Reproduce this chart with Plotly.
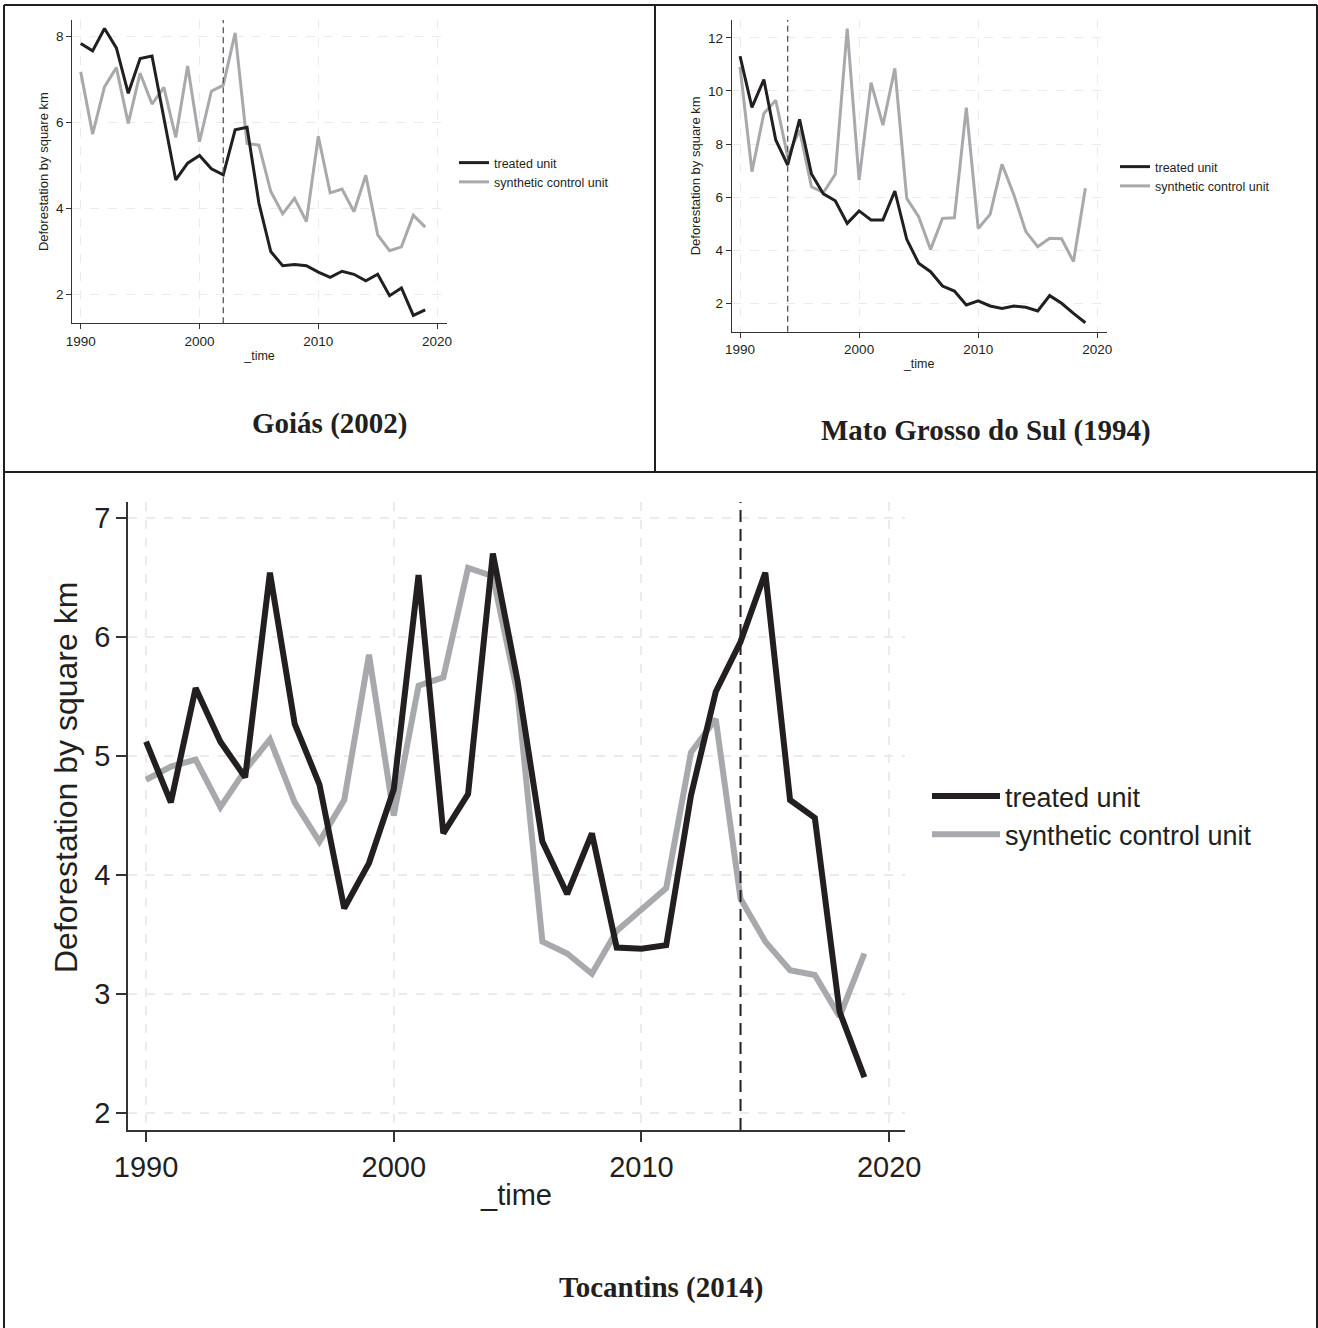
import plotly.graph_objects as go

W, H = 1318, 1328

years = list(range(1990, 2020))

# Goiás (treatment 2002)
goias_treated = [7.84, 7.67, 8.19, 7.74, 6.68, 7.49, 7.55, 6.14, 4.66, 5.05,
                 5.23, 4.92, 4.78, 5.83, 5.89, 4.12, 2.99, 2.66, 2.69, 2.66,
                 2.51, 2.39, 2.53, 2.46, 2.31, 2.46, 1.96, 2.14, 1.50, 1.63]
goias_synth = [7.18, 5.73, 6.83, 7.28, 5.98, 7.15, 6.43, 6.82, 5.65, 7.32,
               5.55, 6.73, 6.87, 8.09, 5.51, 5.47, 4.39, 3.87, 4.23, 3.69,
               5.68, 4.36, 4.45, 3.92, 4.77, 3.38, 3.01, 3.10, 3.84, 3.56]

# Mato Grosso do Sul (treatment 1994)
ms_treated = [11.31, 9.38, 10.43, 8.15, 7.21, 8.93, 6.87, 6.12, 5.86, 5.01,
              5.48, 5.14, 5.14, 6.23, 4.41, 3.51, 3.19, 2.65, 2.46, 1.94,
              2.09, 1.90, 1.81, 1.90, 1.85, 1.71, 2.29, 2.00, 1.62, 1.27]
ms_synth = [10.91, 6.96, 9.15, 9.65, 7.52, 8.52, 6.39, 6.17, 6.86, 12.35,
            6.64, 10.31, 8.71, 10.85, 5.95, 5.26, 4.03, 5.20, 5.22, 9.37,
            4.82, 5.35, 7.24, 6.08, 4.70, 4.13, 4.45, 4.43, 3.57, 6.33]

# Tocantins (treatment 2014)
to_treated = [5.12, 4.61, 5.57, 5.12, 4.82, 6.54, 5.27, 4.76, 3.72, 4.10,
              4.72, 6.52, 4.35, 4.68, 6.70, 5.63, 4.28, 3.84, 4.35, 3.39,
              3.38, 3.41, 4.67, 5.54, 5.96, 6.54, 4.63, 4.48, 2.85, 2.30]
to_synth = [4.80, 4.91, 4.97, 4.57, 4.88, 5.14, 4.61, 4.28, 4.63, 5.85,
            4.50, 5.59, 5.66, 6.58, 6.51, 5.52, 3.44, 3.34, 3.17, 3.53,
            3.71, 3.89, 5.03, 5.31, 3.80, 3.44, 3.20, 3.16, 2.81, 3.34]

titles = ["Goiás (2002)", "Mato Grosso do Sul (1994)", "Tocantins (2014)"]
treat_years = [2002, 1994, 2014]
x_ticks = [1990, 2000, 2010, 2020]
goias_yticks = [2, 4, 6, 8]
ms_yticks = [2, 4, 6, 8, 10, 12]
to_yticks = [2, 3, 4, 5, 6, 7]
legend_names = ["treated unit", "synthetic control unit"]
y_title = "Deforestation by square km"
x_title = "_time"

BLACK = "#231f20"
GRAY = "#a7a9ac"
SANS = "Liberation Sans, Arial, sans-serif"
SERIF = "Liberation Serif, Times New Roman, serif"


def px(x):
    return x / W


def py(y):
    return 1 - y / H


fig = go.Figure()

panels = [
    dict(tr=goias_treated, sy=goias_synth, ax="", leg="legend", lw=3,
         dom_x=(72.3, 446.7), dom_y=(20, 323.3), xr=(1989.29, 2020.81), yr=(1.317, 8.39),
         yt=goias_yticks),
    dict(tr=ms_treated, sy=ms_synth, ax="2", leg="legend2", lw=3,
         dom_x=(731.7, 1106.7), dom_y=(20, 331.7), xr=(1989.30, 2020.79), yr=(0.931, 12.67),
         yt=ms_yticks),
    dict(tr=to_treated, sy=to_synth, ax="3", leg="legend3", lw=6,
         dom_x=(128, 905), dom_y=(502, 1130), xr=(1989.27, 2020.64), yr=(1.857, 7.134),
         yt=to_yticks),
]

layout = dict(
    width=W, height=H, margin=dict(l=0, r=0, t=0, b=0, pad=0, autoexpand=False),
    paper_bgcolor="white", plot_bgcolor="white",
    font=dict(family=SANS, color=BLACK),
    shapes=[], annotations=[],
)

for i, p in enumerate(panels):
    big = (i == 2)
    xa = "x" + p["ax"]
    ya = "y" + p["ax"]
    fig.add_trace(go.Scatter(x=years, y=p["sy"], mode="lines", name=legend_names[1],
                             line=dict(color=GRAY, width=p["lw"]), xaxis=xa, yaxis=ya,
                             legend=p["leg"], legendrank=2))
    fig.add_trace(go.Scatter(x=years, y=p["tr"], mode="lines", name=legend_names[0],
                             line=dict(color=BLACK, width=p["lw"]), xaxis=xa, yaxis=ya,
                             legend=p["leg"], legendrank=1))
    tick_fs = 29 if big else 13.5
    title_fs = 29 if big else 12.5
    common = dict(showline=True, linecolor="#333333", linewidth=1.5 if big else 1,
                  ticks="outside", ticklen=10 if big else 5, tickcolor="#333333",
                  tickwidth=1.5 if big else 1, automargin=False,
                  showgrid=True, gridcolor="#ebebeb", griddash="dash",
                  gridwidth=2 if big else 1, zeroline=False,
                  tickfont=dict(size=tick_fs, color=BLACK, family=SANS))
    layout["xaxis" + p["ax"]] = dict(
        common, anchor=ya, domain=[px(p["dom_x"][0]), px(p["dom_x"][1])],
        range=list(p["xr"]), tickvals=x_ticks,
        title=dict(text=x_title, font=dict(size=title_fs, color=BLACK), standoff=3))
    ydict = dict(
        common, anchor=xa, domain=[py(p["dom_y"][1]), py(p["dom_y"][0])],
        range=list(p["yr"]), tickvals=p["yt"])
    if not big:
        ydict["title"] = dict(text=y_title, font=dict(size=13, color=BLACK), standoff=4)
    layout["yaxis" + p["ax"]] = ydict
    # treatment year vertical line
    layout["shapes"].append(dict(type="line", xref=xa, yref=ya + " domain",
                                 x0=treat_years[i], x1=treat_years[i], y0=0, y1=1,
                                 line=dict(color=BLACK if big else "#555555", width=2 if big else 1.3,
                                           dash="12px,7px" if big else "6px,4px")))

# big panel y title (Stata centres it higher than the axis midpoint)
layout["annotations"].append(dict(text=y_title, xref="paper", yref="paper", x=px(66), y=py(778),
                                  xanchor="center", yanchor="middle", textangle=-90, showarrow=False,
                                  font=dict(family=SANS, size=32, color=BLACK)))

# legends
layout["legend"] = dict(x=px(454), y=py(148), xanchor="left", yanchor="top",
                        bgcolor="rgba(0,0,0,0)", font=dict(size=12.5, color=BLACK), tracegroupgap=0)
layout["legend2"] = dict(x=px(1115), y=py(152), xanchor="left", yanchor="top",
                         bgcolor="rgba(0,0,0,0)", font=dict(size=12.5, color=BLACK), tracegroupgap=0)
layout["legend3"] = dict(x=px(927), y=py(772), xanchor="left", yanchor="top", itemwidth=68,
                         bgcolor="rgba(0,0,0,0)", font=dict(size=27, color=BLACK), tracegroupgap=0)

# panel titles
for txt, cx, cy in [(titles[0], 329, 423), (titles[1], 986, 431), (titles[2], 661, 1287)]:
    layout["annotations"].append(dict(text="<b>" + txt + "</b>", xref="paper", yref="paper",
                                      x=px(cx), y=py(cy), xanchor="center", yanchor="middle",
                                      showarrow=False, font=dict(family=SERIF, size=29, color=BLACK)))

# frame lines
frame = dict(color=BLACK, width=2)
for x0, y0, x1, y1 in [(4, 5, 1317, 5), (4, 5, 4, 1328), (1317, 5, 1317, 1328),
                       (4, 472, 1317, 472), (655, 5, 655, 472)]:
    layout["shapes"].append(dict(type="line", xref="paper", yref="paper",
                                 x0=px(x0), x1=px(x1), y0=py(y0), y1=py(y1), line=frame))

fig.update_layout(**layout)
fig.write_html("out.html", config={"displayModeBar": False},
               post_script="document.body.style.margin='0';document.body.style.overflow='hidden';")
